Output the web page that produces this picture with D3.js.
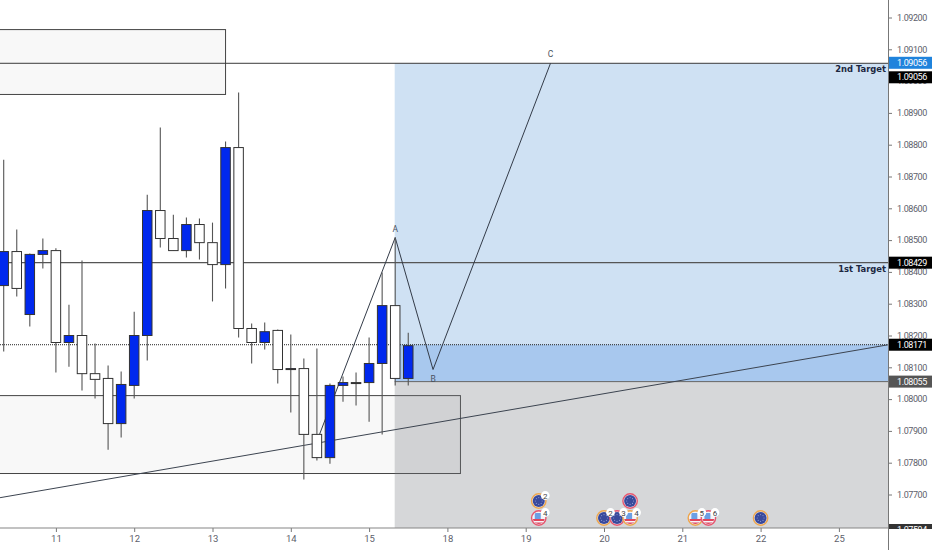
<!DOCTYPE html>
<html>
<head>
<meta charset="utf-8">
<script src="https://cdn.jsdelivr.net/npm/d3@7"></script>
<style>
  html, body { margin: 0; padding: 0; background: #fff; overflow: hidden; }
  svg { display: block; }
  text { font-family: Roboto, sans-serif; }
</style>
</head>
<body>
<div id="vis1"></div>
<script>
// ----------DATA--------------------------------------
const opens  = [1.08357,1.08464,1.08266,1.08455,1.08467,1.08178,1.08200,1.08080,1.08065,1.07923,1.08043,1.08200,1.08593,1.08505,1.08467,1.08549,1.08492,1.08423,1.08791,1.08222,1.08178,1.08216,1.08093,1.08096,1.07889,1.07816,1.08043,1.08052,1.08052,1.08112,1.08294,1.08065];
const highs  = [1.08753,1.08533,1.08458,1.08505,1.08474,1.08297,1.08436,1.08175,1.08106,1.08087,1.08275,1.08643,1.08854,1.08580,1.08571,1.08568,1.08555,1.08810,1.08964,1.08238,1.08241,1.08219,1.08203,1.08128,1.08159,1.08049,1.08071,1.08084,1.08194,1.08398,1.08508,1.08209];
const lows   = [1.08150,1.08323,1.08228,1.08411,1.08084,1.08102,1.08027,1.08002,1.07841,1.07879,1.08002,1.08121,1.08477,1.08467,1.08445,1.08439,1.08307,1.08348,1.08194,1.08112,1.08156,1.08049,1.07958,1.07747,1.07807,1.07797,1.07992,1.07980,1.07929,1.07889,1.08043,1.08043];
const closes = [1.08464,1.08348,1.08455,1.08467,1.08178,1.08200,1.08080,1.08062,1.07923,1.08046,1.08200,1.08593,1.08505,1.08467,1.08549,1.08492,1.08423,1.08791,1.08222,1.08178,1.08212,1.08093,1.08096,1.07889,1.07816,1.08043,1.08052,1.08049,1.08112,1.08294,1.08065,1.08168];

const priceTicks = [1.092,1.091,1.090,1.089,1.088,1.087,1.086,1.085,1.084,1.083,1.082,1.081,1.080,1.079,1.078,1.077];
const dayIndex = [4,10,16,22,28,34,40,46,52,58,64];
const dayLabels = ["11","12","13","14","15","18","19","20","21","22","25"];

const TARGET_2 = 1.09056, TARGET_1 = 1.08429, LAST_PRICE = 1.08171, ENTRY = 1.08055, BOTTOM_PRICE = 1.07594;
const ZONE_START = 30;

// boxes: [left bar, right bar, top price, bottom price]
const boxTop = [-2, 17, 1.09162, 1.08958];
const boxBottom = [-2, 35, 1.08011, 1.07766];
const trendBars = [-0.28, 67.8];
const trendPrices = [1.07690, 1.08171];
const abcdBars = [24.2, 30, 32.9, 41.9];
const abcdPrices = [1.07889, 1.08508, 1.08093, 1.09056];
const abcdNames = ["", "A", "B", "C"];

// calendar events
const eventBars = [41, 41, 46, 47, 48, 48, 53, 54, 58];
const eventRows = [1, 0, 0, 0, 0, 1, 0, 0, 0];
const eventFlags = ["eu", "us", "eu", "eu", "us", "eu", "us", "us", "eu"];
const eventRings = ["o", "r", "o", "r", "o", "r", "o", "r", "o"];
const eventCounts = ["2", "4", "2", "3", "4", "", "5", "6", ""];

// ----------CONSTANTS FOR PAGE SETUP----------------
const FRAME_WIDTH = 932;
const FRAME_HEIGHT = 550;
const PLOT_RIGHT = 888;
const PLOT_BOTTOM = 528;

const FRAME1 = d3.select("#vis1")
  .append("svg")
  .attr("width", FRAME_WIDTH)
  .attr("height", FRAME_HEIGHT);

const X = d3.scaleLinear().domain([0, 68]).range([3.7, 891.1]);
const Y = d3.scaleLinear().domain([1.092, 1.077]).range([17.5, 494.5]);
const ROW = d3.scaleLinear().domain([0, 1]).range([518, 501]);

const defs = FRAME1.append("defs");
defs.append("clipPath").attr("id", "plot")
  .append("rect").attr("width", PLOT_RIGHT).attr("height", PLOT_BOTTOM);
defs.append("clipPath").attr("id", "icon")
  .append("circle").attr("r", 6);
defs.append("clipPath").attr("id", "bottomTag")
  .append("rect").attr("x", PLOT_RIGHT).attr("y", 0).attr("width", 44).attr("height", 529);

const plot = FRAME1.append("g").attr("clip-path", "url(#plot)");

function drawBox(b) {
  plot.append("rect")
    .attr("x", X(b[0])).attr("y", Y(b[2]))
    .attr("width", X(b[1]) - X(b[0])).attr("height", Y(b[3]) - Y(b[2]))
    .attr("fill", "#f8f8f8").attr("stroke", "#444").attr("stroke-width", 1);
}
drawBox(boxTop);
drawBox(boxBottom);

// ----------TRADE ZONES----------------
const zoneX = X(ZONE_START) - 0.5;
function drawZone(top, bottom, color) {
  plot.append("rect")
    .attr("x", zoneX).attr("y", top)
    .attr("width", PLOT_RIGHT - zoneX).attr("height", bottom - top)
    .attr("fill", color);
}
drawZone(Y(TARGET_2), Y(ENTRY), "rgba(15,105,195,0.2)");
drawZone(Y(LAST_PRICE), Y(ENTRY), "rgba(17,100,218,0.2)");
drawZone(Y(ENTRY), PLOT_BOTTOM, "rgba(120,122,128,0.3)");

// ----------LEVEL LINES----------------
function hLine(price, from, color, width, dash) {
  plot.append("line")
    .attr("x1", from).attr("x2", PLOT_RIGHT)
    .attr("y1", Y(price)).attr("y2", Y(price))
    .attr("stroke", color).attr("stroke-width", width)
    .attr("stroke-dasharray", dash);
}
hLine(TARGET_2, 0, "#3a3a3a", 1);
hLine(TARGET_1, 0, "#555", 1.2);
hLine(ENTRY, zoneX, "#666", 1);
hLine(LAST_PRICE, 0, "#222", 1, "1,1");

plot.append("line")
  .attr("x1", X(trendBars[0])).attr("y1", Y(trendPrices[0]))
  .attr("x2", X(trendBars[1])).attr("y2", Y(trendPrices[1]))
  .attr("stroke", "#3c4450").attr("stroke-width", 1);

plot.append("path")
  .attr("d", d3.line().x(d => X(d[0])).y(d => Y(d[1]))(d3.zip(abcdBars, abcdPrices)))
  .attr("fill", "none").attr("stroke", "#333b48").attr("stroke-width", 1);

plot.selectAll(".abcd")
  .data(d3.zip(abcdBars, abcdPrices, abcdNames).slice(1))
  .enter().append("text")
  .attr("x", d => X(d[0]))
  .attr("y", (d, i) => Y(d[1]) + (i === 1 ? 12 : -6))
  .attr("text-anchor", "middle")
  .attr("font-size", 8.5).attr("fill", "#4a5260")
  .text(d => d[2]);

// ----------CANDLES----------------
const BODY_W = 9.5;
const candles = d3.range(opens.length);

plot.selectAll(".wick").data(candles).enter().append("line")
  .attr("x1", i => X(i)).attr("x2", i => X(i))
  .attr("y1", i => Y(highs[i])).attr("y2", i => Y(lows[i]))
  .attr("stroke", "#555").attr("stroke-width", 1.1);

plot.selectAll(".body").data(candles).enter().append("rect")
  .attr("x", i => X(i) - BODY_W / 2)
  .attr("width", BODY_W)
  .attr("y", i => Y(Math.max(opens[i], closes[i])))
  .attr("height", i => Math.max(1, Math.abs(Y(opens[i]) - Y(closes[i]))))
  .attr("fill", i => closes[i] > opens[i] ? "#0028ee" : "#fff")
  .attr("stroke", "#333").attr("stroke-width", 1);

// ----------TARGET LABELS----------------
function targetLabel(price, txt) {
  plot.append("text")
    .attr("x", PLOT_RIGHT - 2).attr("y", Y(price) + 9)
    .attr("text-anchor", "end")
    .style("font-family", "DejaVu Sans")
    .attr("font-size", 8.4).attr("font-weight", "bold")
    .attr("fill", "#1c2740")
    .text(txt);
}
targetLabel(TARGET_2, "2nd Target");
targetLabel(TARGET_1, "1st Target");

// ----------EVENT ICONS----------------
const ringColor = { o: "#efa64c", r: "#e8566f" };
const eventLayer = FRAME1.append("g");
const events = eventLayer.selectAll("g")
  .data(d3.range(eventBars.length)).enter().append("g")
  .attr("transform", i => `translate(${X(eventBars[i])},${ROW(eventRows[i])})`);

events.append("circle").attr("r", 7.2)
  .attr("fill", "#e4e6ee")
  .attr("stroke", i => ringColor[eventRings[i]]).attr("stroke-width", 1.4);

events.each(function (i) {
  const g = d3.select(this).append("g").attr("clip-path", "url(#icon)");
  if (eventFlags[i] === "eu") {
    g.append("rect").attr("x", -7).attr("y", -7).attr("width", 14).attr("height", 14).attr("fill", "#39499c");
    g.selectAll("circle").data(d3.range(8)).enter().append("circle")
      .attr("cx", k => 3.4 * Math.cos(k * Math.PI / 4))
      .attr("cy", k => 3.4 * Math.sin(k * Math.PI / 4))
      .attr("r", 0.55).attr("fill", "#8f9ad0");
  } else {
    g.append("rect").attr("x", -7).attr("y", -7).attr("width", 14).attr("height", 14).attr("fill", "#f4f4f8");
    g.append("rect").attr("x", -7).attr("y", 1).attr("width", 14).attr("height", 2).attr("fill", "#e0455c");
    g.append("rect").attr("x", -7).attr("y", 4.5).attr("width", 14).attr("height", 2).attr("fill", "#e0455c");
    g.append("rect").attr("x", -4).attr("y", -5).attr("width", 6).attr("height", 6).attr("fill", "#6c9fe4");
  }
});

// badges go on top of every icon
const badged = FRAME1.append("g").selectAll("g")
  .data(d3.range(eventBars.length).filter(i => eventCounts[i] !== "")).enter().append("g")
  .attr("transform", i => `translate(${X(eventBars[i]) + 6.5},${ROW(eventRows[i]) - 5.5})`);
badged.append("circle").attr("r", 4.4).attr("fill", "#fff");
badged.append("text")
  .attr("y", 3)
  .attr("text-anchor", "middle")
  .attr("font-size", 8).attr("fill", "#444")
  .text(i => eventCounts[i]);

// ----------AXES----------------
const yAxis = d3.axisRight(Y).tickValues(priceTicks).tickSize(4).tickPadding(5).tickFormat(d3.format(".5f"));
const yAxisG = FRAME1.append("g").attr("transform", `translate(${PLOT_RIGHT},0)`).call(yAxis);
yAxisG.select(".domain").remove();
yAxisG.selectAll("line").attr("stroke", "#777");
yAxisG.selectAll("text").attr("fill", "#5d606b").attr("font-size", 9)
  .style("font-family", "Roboto").style("letter-spacing", "-0.4px");

const xAxis = d3.axisBottom(X).tickValues(dayIndex).tickSize(4).tickPadding(3)
  .tickFormat((d, i) => dayLabels[i]);
const xAxisG = FRAME1.append("g").attr("transform", `translate(0,${PLOT_BOTTOM})`).call(xAxis);
xAxisG.select(".domain").remove();
xAxisG.selectAll("line").attr("stroke", "#777");
xAxisG.selectAll("text").attr("fill", "#5d606b").attr("font-size", 9.5).style("font-family", "Roboto");

FRAME1.append("line").attr("x1", 0).attr("x2", PLOT_RIGHT)
  .attr("y1", PLOT_BOTTOM).attr("y2", PLOT_BOTTOM).attr("stroke", "#858585").attr("stroke-width", 1.2);
FRAME1.append("line").attr("x1", PLOT_RIGHT + 0.5).attr("x2", PLOT_RIGHT + 0.5)
  .attr("y1", 0).attr("y2", FRAME_HEIGHT).attr("stroke", "#777").attr("stroke-width", 1);

// ----------PRICE TAGS----------------
function priceTag(parent, price, yPos, bg) {
  parent.append("rect")
    .attr("x", PLOT_RIGHT + 1).attr("y", yPos - 6)
    .attr("width", FRAME_WIDTH - PLOT_RIGHT).attr("height", 12)
    .attr("fill", bg);
  parent.append("text")
    .attr("x", PLOT_RIGHT + 9).attr("y", yPos + 3)
    .attr("fill", "#fff").attr("font-size", 9)
    .style("letter-spacing", "-0.4px")
    .text(d3.format(".5f")(price));
}
const tags = FRAME1.append("g");
priceTag(tags, TARGET_2, Y(TARGET_2) - 0.5, "#1f83dc");
priceTag(tags, TARGET_2, Y(TARGET_2) + 14, "#000");
priceTag(tags, TARGET_1, Y(TARGET_1), "#000");
priceTag(tags, LAST_PRICE, Y(LAST_PRICE), "#000");
priceTag(tags, ENTRY, Y(ENTRY), "#555");
priceTag(FRAME1.append("g").attr("clip-path", "url(#bottomTag)"), BOTTOM_PRICE, 530, "#333");
</script>
</body>
</html>
